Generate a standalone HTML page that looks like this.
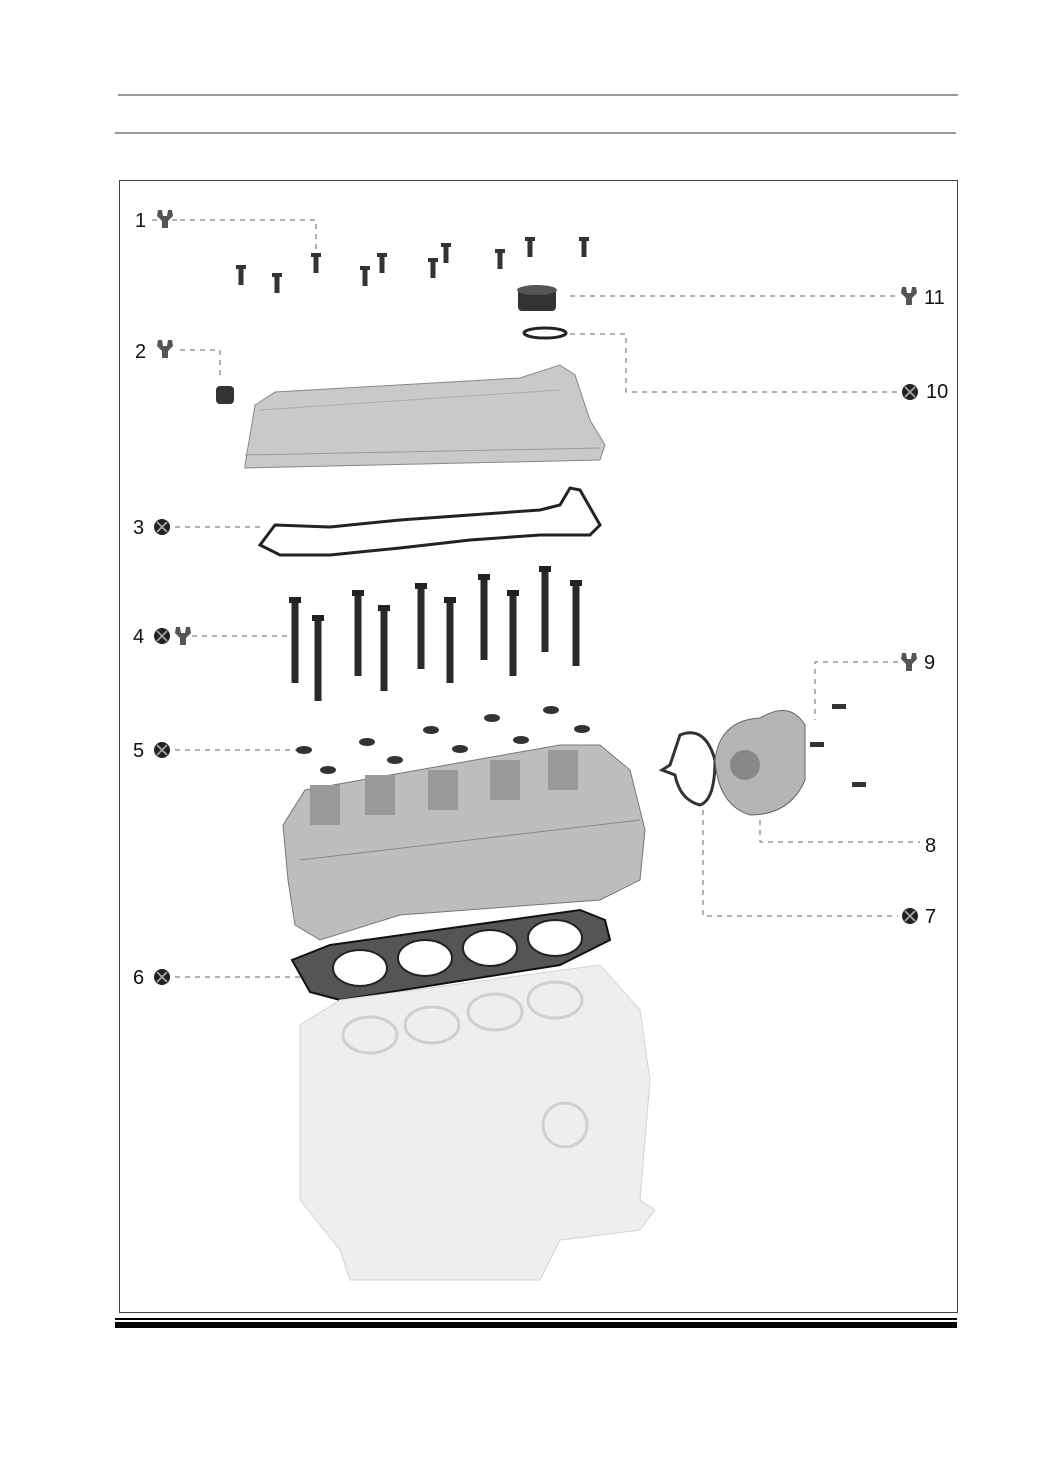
<!DOCTYPE html>
<html><head><meta charset="utf-8"><style>
html,body{margin:0;padding:0;background:#fff}
svg{display:block}
text{font-family:"Liberation Sans",sans-serif;font-size:20px;fill:#111}
</style></head><body>
<svg width="1040" height="1473" viewBox="0 0 1040 1473" xmlns="http://www.w3.org/2000/svg">
<defs>
<g id="wr"><path d="M-7,-9 L-3,-9 L-2,-3 L2,-3 L3,-9 L7,-9 L8,-3 L3,2 L3,9 L-3,9 L-3,2 L-8,-3 Z" fill="#555"/></g>
<g id="xc"><circle r="8" fill="#222"/><path d="M-5,-5 L5,5 M5,-5 L-5,5" stroke="#aaa" stroke-width="1.6"/></g>
<g id="bs"><rect x="-5" y="0" width="10" height="4" fill="#333"/><rect x="-2.5" y="4" width="5" height="16" fill="#333"/></g>
<g id="bl"><rect x="-6" y="0" width="12" height="6" fill="#222"/><rect x="-3.5" y="6" width="7" height="80" fill="#2a2a2a"/></g>
</defs>
<line x1="118" y1="95" x2="958" y2="95" stroke="#333" stroke-width="1"/>
<line x1="115" y1="133" x2="956" y2="133" stroke="#333" stroke-width="1"/>
<rect x="119.5" y="180.5" width="838" height="1132" fill="none" stroke="#444" stroke-width="1"/>
<rect x="115" y="1318" width="842" height="2" fill="#000"/>
<rect x="115" y="1322" width="842" height="6" fill="#000"/>
<g stroke="#666" stroke-width="1" stroke-dasharray="5,5" fill="none">
<path d="M152,220 H180 M180,220 H316 V250"/>
<path d="M180,350 H220 V380"/>
<path d="M175,527 H265"/>
<path d="M192,636 H290"/>
<path d="M175,750 H300"/>
<path d="M175,977 H305"/>
<path d="M570,296 H898"/>
<path d="M570,334 H626 V392 H898"/>
<path d="M898,662 H815 V720"/>
<path d="M760,810 V842 H920"/>
<path d="M703,810 V916 H898"/>
</g>
<text x="135" y="227">1</text><use href="#wr" x="165" y="219"/>
<text x="135" y="358">2</text><use href="#wr" x="165" y="349"/>
<text x="133" y="534">3</text><use href="#xc" x="162" y="527"/>
<text x="133" y="643">4</text><use href="#xc" x="162" y="636"/><use href="#wr" x="183" y="636"/>
<text x="133" y="757">5</text><use href="#xc" x="162" y="750"/>
<text x="133" y="984">6</text><use href="#xc" x="162" y="977"/>
<use href="#xc" x="910" y="916"/><text x="925" y="923">7</text>
<text x="925" y="852">8</text>
<use href="#wr" x="909" y="662"/><text x="924" y="669">9</text>
<use href="#xc" x="910" y="392"/><text x="926" y="398">10</text>
<use href="#wr" x="909" y="296"/><text x="924" y="304">11</text>
<!-- small bolts -->
<use href="#bs" x="241" y="265"/><use href="#bs" x="277" y="273"/><use href="#bs" x="316" y="253"/>
<use href="#bs" x="365" y="266"/><use href="#bs" x="382" y="253"/><use href="#bs" x="433" y="258"/>
<use href="#bs" x="446" y="243"/><use href="#bs" x="500" y="249"/><use href="#bs" x="530" y="237"/><use href="#bs" x="584" y="237"/>
<!-- cap and o-ring -->
<rect x="518" y="287" width="38" height="24" rx="4" fill="#333"/>
<ellipse cx="537" cy="290" rx="20" ry="5" fill="#555"/>
<ellipse cx="545" cy="333" rx="21" ry="5" fill="none" stroke="#222" stroke-width="3"/>
<!-- nut -->
<rect x="216" y="386" width="18" height="18" rx="4" fill="#333"/>
<!-- valve cover -->
<path d="M245,465 L255,405 L275,392 L520,378 L560,365 L575,375 L590,420 L605,445 L600,460 L245,468 Z" fill="#c9c9c9" stroke="#888"/>
<path d="M260,410 L560,390" stroke="#aaa" fill="none"/>
<path d="M245,455 L600,448" stroke="#999" fill="none"/>
<!-- gasket -->
<path d="M260,545 L275,525 L330,527 L400,520 L470,515 L540,510 L560,505 L570,488 L580,490 L600,525 L590,535 L540,535 L470,540 L400,548 L330,555 L280,555 Z" fill="none" stroke="#222" stroke-width="3"/>
<!-- long bolts -->
<use href="#bl" x="295" y="597"/><use href="#bl" x="318" y="615"/><use href="#bl" x="358" y="590"/>
<use href="#bl" x="384" y="605"/><use href="#bl" x="421" y="583"/><use href="#bl" x="450" y="597"/>
<use href="#bl" x="484" y="574"/><use href="#bl" x="513" y="590"/><use href="#bl" x="545" y="566"/><use href="#bl" x="576" y="580"/>
<!-- washers -->
<g fill="#333"><ellipse cx="304" cy="750" rx="8" ry="4"/><ellipse cx="328" cy="770" rx="8" ry="4"/><ellipse cx="367" cy="742" rx="8" ry="4"/><ellipse cx="395" cy="760" rx="8" ry="4"/><ellipse cx="431" cy="730" rx="8" ry="4"/><ellipse cx="460" cy="749" rx="8" ry="4"/><ellipse cx="492" cy="718" rx="8" ry="4"/><ellipse cx="521" cy="740" rx="8" ry="4"/><ellipse cx="551" cy="710" rx="8" ry="4"/><ellipse cx="582" cy="729" rx="8" ry="4"/></g>
<!-- cylinder head -->
<path d="M283,825 L305,790 L560,745 L600,745 L630,770 L645,830 L640,880 L600,900 L400,915 L320,940 L295,925 L288,880 Z" fill="#bdbdbd" stroke="#777"/>
<path d="M300,860 L640,820" stroke="#888" fill="none"/>
<g fill="#999"><rect x="310" y="785" width="30" height="40"/><rect x="365" y="775" width="30" height="40"/><rect x="428" y="770" width="30" height="40"/><rect x="490" y="760" width="30" height="40"/><rect x="548" y="750" width="30" height="40"/></g>
<!-- head gasket -->
<path d="M292,960 L330,945 L580,910 L605,920 L610,940 L560,965 L340,1000 L310,992 Z" fill="#555" stroke="#111" stroke-width="2"/>
<g fill="#fff" stroke="#222" stroke-width="2"><ellipse cx="360" cy="968" rx="27" ry="18"/><ellipse cx="425" cy="958" rx="27" ry="18"/><ellipse cx="490" cy="948" rx="27" ry="18"/><ellipse cx="555" cy="938" rx="27" ry="18"/></g>
<!-- block (ghosted) -->
<path d="M300,1025 L340,1000 L600,965 L640,1010 L650,1080 L640,1200 L655,1210 L640,1230 L560,1240 L540,1280 L350,1280 L340,1250 L300,1200 Z" fill="#eeeeee" stroke="#d3d3d3"/>
<g fill="none" stroke="#cfcfcf" stroke-width="3"><ellipse cx="370" cy="1035" rx="27" ry="18"/><ellipse cx="432" cy="1025" rx="27" ry="18"/><ellipse cx="495" cy="1012" rx="27" ry="18"/><ellipse cx="555" cy="1000" rx="27" ry="18"/></g>
<circle cx="565" cy="1125" r="22" fill="none" stroke="#d0d0d0" stroke-width="3"/>
<!-- vacuum pump gasket -->
<path d="M680,735 Q705,725 715,760 Q715,800 700,805 Q680,800 675,775 L662,770 L670,765 Z" fill="none" stroke="#333" stroke-width="3"/>
<!-- vacuum pump -->
<path d="M715,760 Q720,720 760,718 Q790,700 805,725 L805,780 Q790,815 750,815 Q718,805 715,760 Z" fill="#b5b5b5" stroke="#666"/>
<circle cx="745" cy="765" r="15" fill="#888"/>
<g fill="#333"><rect x="832" y="704" width="14" height="5"/><rect x="810" y="742" width="14" height="5"/><rect x="852" y="782" width="14" height="5"/></g>
</svg>
</body></html>
